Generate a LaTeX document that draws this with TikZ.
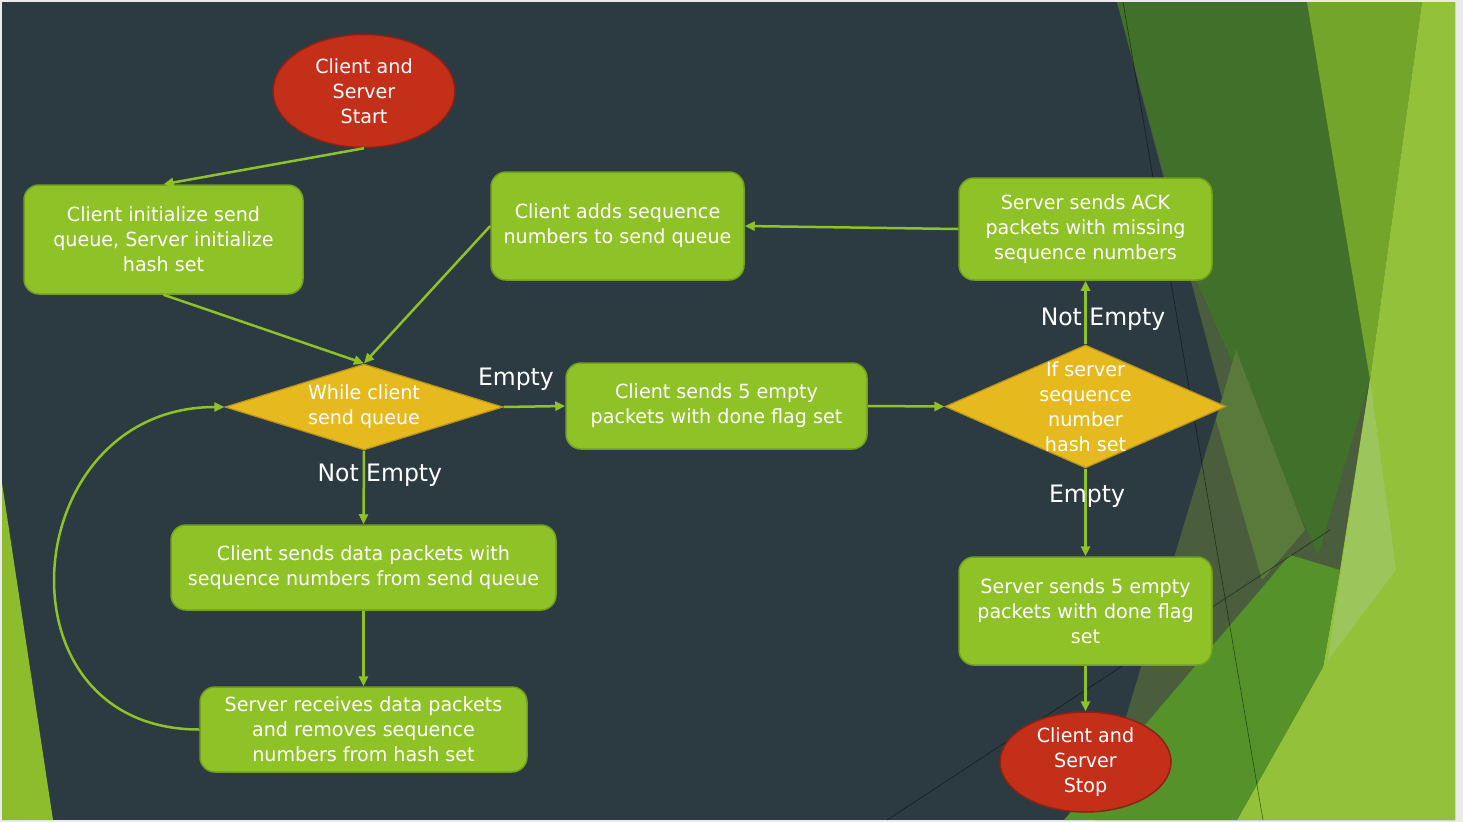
\documentclass[tikz,border=0pt]{standalone}
\usepackage{fontspec}
\setmainfont{DejaVu Sans}[FakeStretch=0.98]
\usetikzlibrary{arrows.meta,shapes.geometric}
\definecolor{slate}{HTML}{2C3A41}
\definecolor{frame}{HTML}{EBEBEB}
\definecolor{boxgreen}{HTML}{8FC226}
\definecolor{boxedge}{HTML}{73A01E}
\definecolor{gold}{HTML}{E6B91E}
\definecolor{goldedge}{HTML}{B8921A}
\definecolor{redfill}{HTML}{C42F1A}
\definecolor{rededge}{HTML}{8E2212}
\definecolor{dkgreen}{HTML}{40702A}
\definecolor{olive}{HTML}{4A5E3E}
\definecolor{paleolive}{HTML}{5A7A3B}
\definecolor{midolive}{HTML}{74A52B}
\definecolor{ltgreen}{HTML}{93C23A}
\definecolor{midgreen}{HTML}{55932A}
\definecolor{pale}{HTML}{9CC65C}
\definecolor{sliver}{HTML}{8DBD2C}
\definecolor{thin}{HTML}{1E2A30}
\newcommand{\boxfont}{\fontsize{19.5}{25}\selectfont}
\newcommand{\lblfont}{\fontsize{24}{28}\selectfont}
\begin{document}
\begin{tikzpicture}[x=1pt,y=-1pt]
\tikzset{box/.style={rectangle, rounded corners=15pt, fill=boxgreen, draw=boxedge, line width=1.5pt, text=white, align=center, font=\boxfont, inner sep=2pt}}
\tikzset{oval/.style={ellipse, fill=redfill, draw=rededge, line width=1.5pt, text=white, align=center, font=\boxfont, inner sep=0pt}}
\tikzset{decide/.style={diamond, fill=gold, draw=goldedge, line width=1.2pt, inner sep=0pt}}
\tikzset{dtext/.style={text=white, align=center, font=\boxfont}}
\tikzset{flow/.style={draw=boxgreen, line width=2.5pt, -{Triangle[length=10pt,width=9pt]}}}
\tikzset{lbl/.style={text=white, font=\lblfont, inner sep=0pt}}
\tikzset{facet/.style={thin, line width=0.6pt, opacity=0.5}}
\useasboundingbox (0,0) rectangle (1463,822);
\fill[frame] (0,0) rectangle (1463,822);
\fill[slate] (2,2) rectangle (1455,820);
\begin{scope}
\clip (2,2) rectangle (1455,820);
\fill[olive] (1117,2) -- (1222,398) -- (1095,820) -- (1455,820) -- (1455,2) -- cycle;
\fill[dkgreen] (1117,2) -- (1307,2) -- (1370,380) -- (1318,555) -- (1188,262) -- cycle;
\fill[paleolive] (1216,420) -- (1236,350) -- (1305,530) -- (1262,580) -- cycle;
\fill[midolive] (1307,2) -- (1422,2) -- (1370,380) -- cycle;
\fill[ltgreen] (1422,2) -- (1455,2) -- (1455,820) -- (1237,820) -- (1323,667) -- (1340,570) -- (1370,380) -- cycle;
\fill[midgreen] (1064,820) -- (1290,555) -- (1340,570) -- (1323,667) -- (1237,820) -- cycle;
\fill[pale] (1370,380) -- (1396,570) -- (1328,660) -- (1342,565) -- cycle;
\fill[sliver] (2,483) -- (53,820) -- (2,820) -- cycle;
\draw[facet] (1123,2) -- (1263,820);
\draw[facet] (887,820) -- (1330,530);
\end{scope}
\node[oval, minimum width=182, minimum height=113] (start) at (364,91) {Client and\\Server\\Start};
\node[box, minimum width=279, minimum height=109] (init) at (163.5,239.5) {Client initialize send\\queue, Server initialize\\hash set};
\node[box, minimum width=253, minimum height=108] (adds) at (617.5,226) {Client adds sequence\\numbers to send queue};
\node[box, minimum width=253, minimum height=102] (ack) at (1085.5,229) {Server sends ACK\\packets with missing\\sequence numbers};
\node[decide, minimum width=278, minimum height=86, label={[dtext]center:{While client\\send queue}}] (while) at (364,407) {};
\node[box, minimum width=301, minimum height=86] (done) at (716.5,406) {Client sends 5 empty\\packets with done flag set};
\node[decide, minimum width=281, minimum height=123, label={[dtext]center:{If server\\sequence\\number\\hash set}}] (check) at (1085.5,406.5) {};
\node[box, minimum width=385, minimum height=85] (data) at (363.5,567.5) {Client sends data packets with\\sequence numbers from send queue};
\node[box, minimum width=327, minimum height=85] (recv) at (363.5,729.5) {Server receives data packets\\and removes sequence\\numbers from hash set};
\node[box, minimum width=253, minimum height=108] (sdone) at (1085.5,611) {Server sends 5 empty\\packets with done flag\\set};
\node[oval, minimum width=171, minimum height=100] (stop) at (1085.5,762) {Client and\\Server\\Stop};
\draw[flow] (start.south) -- (init.north);
\draw[flow] (init.south) -- (while.north);
\draw[flow] (adds.west) -- (while.north);
\draw[flow] (ack.west) -- (adds.east);
\draw[flow] (while.east) -- node[lbl, pos=0.2, yshift=28pt] {Empty} (done.west);
\draw[flow] (done.east) -- (check.west);
\draw[flow] (check.north) -- node[lbl, pos=0.4, xshift=17.5pt] {Not Empty} (ack.south);
\draw[flow] (check.south) -- node[lbl, pos=0.315, xshift=1.5pt] {Empty} (sdone.north);
\draw[flow] (sdone.south) -- (stop.north);
\draw[flow] (while.south) -- node[lbl, pos=0.33, xshift=16pt] {Not Empty} (data.north);
\draw[flow] (data.south) -- (recv.north);
\draw[flow] (recv.west) to[out=180, in=180, looseness=1.65] (while.west);
\end{tikzpicture}
\end{document}
